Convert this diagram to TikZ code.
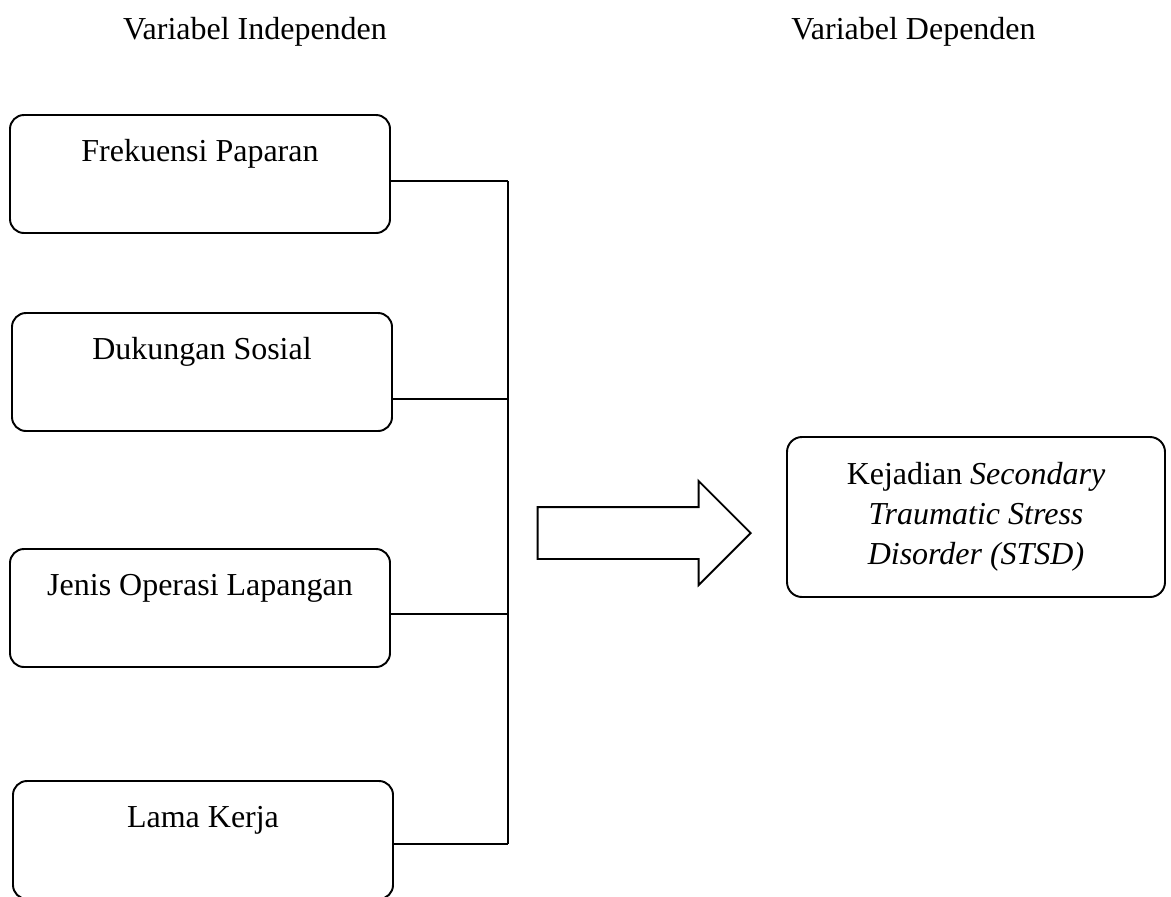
\documentclass[tikz,border=0pt]{standalone}
\usepackage{fontspec}
\setmainfont{Liberation Serif}
\usetikzlibrary{shapes.arrows}

\begin{document}
\begin{tikzpicture}[line width=1.1pt,
  every node/.style={font=\fontsize{18.2}{22.8}\selectfont},
  varbox/.style={draw, rounded corners=0.28cm, minimum width=7.6cm,
    inner ysep=0.2cm, text height=0.72cm, text depth=1.24cm},
  outbox/.style={draw, rounded corners=0.3cm, minimum width=7.56cm,
    minimum height=3.2cm, align=center}]
\useasboundingbox (0,0) rectangle (23.42,-17.92);
% headings
\node (indep) at (5.1,-0.64) {Variabel Independen};
\node (dep) at (18.27,-0.64) {Variabel Dependen};
% independent variables
\node[varbox] (frek) at (4.0,-3.48) {Frekuensi Paparan};
\node[varbox] (duk) at (4.04,-7.44) {Dukungan Sosial};
\node[varbox] (jenis) at (4.0,-12.16) {Jenis Operasi Lapangan};
\node[varbox] (lama) at (4.06,-16.8) {Lama Kerja};
% bus line
\coordinate (j1) at (10.16,-3.62);
\coordinate (j2) at (10.16,-7.98);
\coordinate (j3) at (10.16,-12.28);
\coordinate (j4) at (10.16,-16.88);
\draw (j1) -- (j4);
\draw (frek.east |- j1) -- (j1);
\draw (duk.east |- j2) -- (j2);
\draw (jenis.east |- j3) -- (j3);
\draw (lama.east |- j4) -- (j4);
% block arrow
\node[single arrow, draw, anchor=tip, minimum height=4.26cm, minimum width=2.04cm,
  inner sep=0.5cm, single arrow head extend=0.52cm] (arr) at (15.04,-10.66) {};
% dependent variable
\node[outbox] (stsd) at (19.52,-10.34)
  {Kejadian \textit{Secondary}\\ \textit{Traumatic Stress}\\ \textit{Disorder (STSD)}};
\end{tikzpicture}
\end{document}
